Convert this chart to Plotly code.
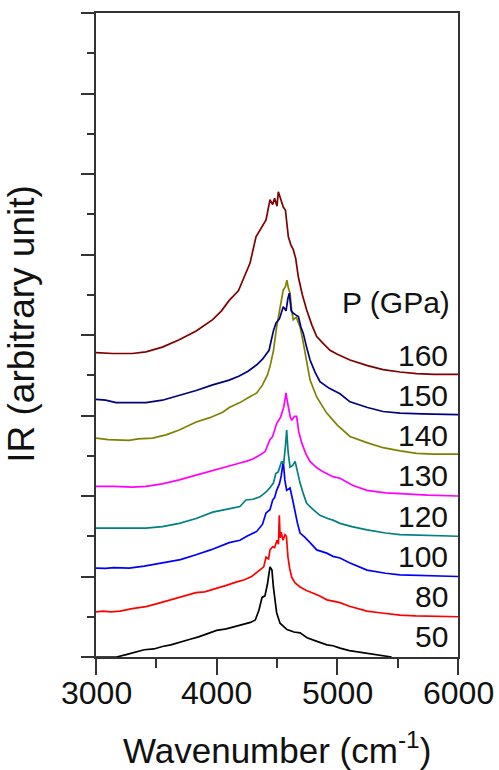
import plotly.graph_objects as go

# Pressures (GPa) of each spectrum, bottom to top
pressures = [50, 80, 100, 120, 130, 140, 150, 160]
offsets = [0.0, 0.5, 1.0, 1.5, 2.0, 2.5, 3.0, 3.5]
colors = ["#000000", "#ff0000", "#0000ff", "#008080",
          "#ff00ff", "#808000", "#000080", "#800000"]

# x-axis tick positions / labels
x_ticks = [3000, 4000, 5000, 6000]
x_minor = [3500, 4500, 5500]

# Stacked IR spectra (wavenumber in cm^-1, intensity in arbitrary units incl. offset)
wn_50 = [3000, 3100, 3170, 3250, 3330, 3400, 3480, 3550, 3620, 3700, 3780, 3850, 3920, 4000,
         4080, 4150, 4220, 4280, 4320, 4350, 4376, 4400, 4420, 4442, 4458, 4470, 4497, 4525,
         4583, 4640, 4691, 4749, 4820, 4914, 4964, 5022, 5100, 5180, 5246, 5320, 5400, 5450]
ir_50 = [0.00, 0.00, 0.00, 0.03, 0.06, 0.09, 0.10, 0.13, 0.15, 0.19, 0.22, 0.25, 0.29, 0.33,
         0.35, 0.38, 0.41, 0.43, 0.46, 0.58, 0.74, 0.76, 0.90, 1.12, 1.08, 0.87, 0.55, 0.42,
         0.34, 0.31, 0.30, 0.24, 0.20, 0.15, 0.14, 0.11, 0.08, 0.06, 0.05, 0.03, 0.01, 0.00]

wn_80 = [3000, 3060, 3120, 3200, 3300, 3414, 3500, 3600, 3700, 3829, 3900, 4000, 4080, 4160,
         4230, 4290, 4326, 4359, 4390, 4409, 4430, 4442, 4464, 4480, 4500, 4512, 4519, 4526,
         4535, 4550, 4566, 4578, 4591, 4605, 4622, 4650, 4691, 4740, 4798, 4850, 4914, 4964,
         5022, 5100, 5180, 5246, 5350, 5450, 5519, 5650, 5800, 6000]
ir_80 = [0.56, 0.57, 0.56, 0.57, 0.60, 0.625, 0.66, 0.70, 0.74, 0.80, 0.81, 0.85, 0.89, 0.93,
         0.96, 1.00, 1.04, 1.08, 1.12, 1.24, 1.22, 1.33, 1.37, 1.36, 1.45, 1.40, 1.76, 1.48,
         1.55, 1.45, 1.52, 1.50, 1.24, 1.10, 0.99, 0.92, 0.87, 0.83, 0.795, 0.76, 0.71, 0.69,
         0.675, 0.63, 0.60, 0.57, 0.55, 0.53, 0.52, 0.51, 0.505, 0.50]

wn_100 = [3000, 3080, 3150, 3274, 3400, 3552, 3700, 3829, 3950, 4104, 4193, 4250, 4298, 4332,
          4380, 4409, 4442, 4464, 4480, 4497, 4520, 4535, 4552, 4565, 4580, 4595, 4608, 4630,
          4650, 4670, 4691, 4730, 4774, 4829, 4912, 4964, 5022, 5100, 5246, 5400, 5519, 5700, 6000]
ir_100 = [1.105, 1.10, 1.11, 1.105, 1.13, 1.17, 1.21, 1.27, 1.33, 1.42, 1.45, 1.50, 1.54, 1.56,
          1.65, 1.79, 1.83, 1.95, 1.98, 2.07, 2.15, 2.25, 2.43, 2.20, 2.07, 2.09, 2.10, 1.95,
          1.79, 1.66, 1.54, 1.49, 1.42, 1.33, 1.29, 1.25, 1.23, 1.17, 1.08, 1.04, 1.02, 1.01, 1.00]

wn_120 = [3000, 3150, 3300, 3414, 3550, 3690, 3830, 3967, 4100, 4193, 4243, 4300, 4359, 4409,
          4440, 4470, 4490, 4510, 4538, 4555, 4570, 4580, 4592, 4608, 4630, 4650, 4670, 4691,
          4720, 4746, 4800, 4856, 4920, 4964, 5022, 5120, 5246, 5400, 5519, 5750, 6000]
ir_120 = [1.60, 1.60, 1.60, 1.60, 1.62, 1.66, 1.72, 1.80, 1.84, 1.87, 1.95, 1.96, 1.99, 2.05,
          2.10, 2.16, 2.28, 2.30, 2.43, 2.40, 2.62, 2.82, 2.55, 2.36, 2.38, 2.43, 2.30, 2.16,
          2.02, 1.91, 1.83, 1.76, 1.72, 1.70, 1.66, 1.62, 1.58, 1.54, 1.52, 1.51, 1.50]

wn_130 = [3000, 3150, 3300, 3414, 3550, 3690, 3830, 3967, 4100, 4193, 4243, 4300, 4359, 4400,
          4442, 4464, 4497, 4530, 4555, 4575, 4585, 4595, 4610, 4622, 4645, 4663, 4680, 4705,
          4740, 4774, 4830, 4882, 4964, 5022, 5130, 5246, 5400, 5519, 5750, 6000]
ir_130 = [2.12, 2.12, 2.11, 2.12, 2.15, 2.20, 2.26, 2.32, 2.37, 2.41, 2.43, 2.46, 2.51, 2.55,
          2.70, 2.74, 2.90, 2.98, 3.10, 3.28, 3.18, 3.10, 2.98, 2.94, 2.99, 2.99, 2.80, 2.66,
          2.52, 2.43, 2.35, 2.30, 2.24, 2.22, 2.13, 2.07, 2.04, 2.03, 2.01, 2.00]

wn_140 = [3000, 3100, 3274, 3350, 3469, 3580, 3690, 3830, 3938, 4050, 4104, 4193, 4260, 4332,
          4380, 4420, 4442, 4470, 4497, 4520, 4552, 4570, 4582, 4595, 4608, 4622, 4635, 4660,
          4691, 4712, 4732, 4774, 4829, 4912, 5000, 5105, 5250, 5379, 5520, 5657, 5800, 6000]
ir_140 = [2.72, 2.70, 2.69, 2.71, 2.72, 2.76, 2.82, 2.92, 2.97, 3.04, 3.10, 3.16, 3.22, 3.28,
          3.38, 3.50, 3.61, 3.80, 4.10, 4.30, 4.56, 4.60, 4.68, 4.58, 4.52, 4.30, 4.19, 4.22,
          4.10, 3.95, 3.78, 3.44, 3.23, 3.03, 2.88, 2.74, 2.66, 2.60, 2.56, 2.53, 2.52, 2.52]

wn_150 = [3000, 3080, 3166, 3300, 3414, 3550, 3690, 3830, 3967, 4104, 4187, 4260, 4332, 4380,
          4434, 4470, 4492, 4520, 4552, 4575, 4590, 4602, 4618, 4635, 4655, 4677, 4698, 4718,
          4745, 4774, 4815, 4856, 4930, 5022, 5105, 5250, 5379, 5520, 5700, 6000]
ir_150 = [3.20, 3.19, 3.16, 3.16, 3.16, 3.19, 3.25, 3.31, 3.38, 3.44, 3.49, 3.55, 3.63, 3.70,
          3.81, 4.05, 4.15, 4.20, 4.35, 4.30, 4.45, 4.52, 4.30, 4.27, 4.25, 4.23, 4.10, 4.02,
          3.85, 3.69, 3.54, 3.42, 3.34, 3.27, 3.17, 3.10, 3.05, 3.03, 3.02, 3.01]

wn_160 = [3000, 3138, 3300, 3414, 3550, 3690, 3830, 3967, 4040, 4104, 4180, 4243, 4276, 4326,
          4359, 4390, 4409, 4442, 4464, 4480, 4500, 4511, 4530, 4552, 4570, 4594, 4615, 4635,
          4655, 4677, 4710, 4746, 4790, 4829, 4880, 4939, 5000, 5105, 5250, 5379, 5520, 5657,
          5800, 6000]
ir_160 = [3.78, 3.77, 3.77, 3.79, 3.85, 3.94, 4.05, 4.19, 4.30, 4.43, 4.55, 4.77, 4.89, 5.22,
          5.30, 5.38, 5.43, 5.68, 5.62, 5.70, 5.60, 5.78, 5.70, 5.59, 5.55, 5.22, 5.12, 5.06,
          4.95, 4.72, 4.50, 4.31, 4.12, 3.98, 3.90, 3.81, 3.76, 3.69, 3.62, 3.57, 3.54, 3.52,
          3.51, 3.51]

spectra = [(wn_50, ir_50), (wn_80, ir_80), (wn_100, ir_100), (wn_120, ir_120),
           (wn_130, ir_130), (wn_140, ir_140), (wn_150, ir_150), (wn_160, ir_160)]

FONT = "Liberation Sans, Arial, sans-serif"
AXIS = "#333333"
TEXT = "#111111"

fig = go.Figure()
for (wn, ir), p, c in zip(spectra, pressures, colors):
    fig.add_trace(go.Scatter(x=wn, y=ir, mode="lines", name=f"{p} GPa",
                             line=dict(color=c, width=1.7), showlegend=False,
                             hoverinfo="skip"))

annotations = []
# pressure labels sit just above the right end of each trace
for p, off in zip(pressures, offsets):
    annotations.append(dict(x=5935, y=off + 0.25, xref="x", yref="y", text=str(p),
                            showarrow=False, xanchor="right", yanchor="middle",
                            font=dict(family=FONT, size=30, color=TEXT)))
annotations.append(dict(x=5950, y=offsets[-1] + 0.91, xref="x", yref="y", text="P (GPa)",
                        showarrow=False, xanchor="right", yanchor="middle",
                        font=dict(family=FONT, size=30, color=TEXT)))
# x tick labels, set close under the long ticks
for t in x_ticks:
    annotations.append(dict(x=t, y=-0.056, xref="x", yref="paper", text=str(t),
                            showarrow=False, xanchor="center", yanchor="middle",
                            font=dict(family=FONT, size=32, color=TEXT)))
# axis titles
annotations.append(dict(x=0.5, y=-0.141, xref="paper", yref="paper",
                        text="Wavenumber (cm<sup>-1</sup>)", showarrow=False,
                        xanchor="center", yanchor="middle",
                        font=dict(family=FONT, size=35, color=TEXT)))
annotations.append(dict(x=-0.208, y=0.517, xref="paper", yref="paper",
                        text="IR (arbitrary unit)", showarrow=False, textangle=-90,
                        xanchor="center", yanchor="middle",
                        font=dict(family=FONT, size=37, color=TEXT)))

fig.update_layout(
    width=499, height=770,
    margin=dict(l=96, r=41, t=13, b=113),
    paper_bgcolor="white", plot_bgcolor="white",
    annotations=annotations,
    xaxis=dict(range=[3000, 6000], tickvals=x_ticks, showticklabels=False,
               automargin=False,
               ticks="outside", ticklen=16, tickwidth=2, tickcolor=AXIS,
               showline=True, linewidth=2, linecolor=AXIS, mirror=True,
               showgrid=False, zeroline=False,
               minor=dict(tickvals=x_minor, ticks="outside",
                          ticklen=9, tickwidth=2, tickcolor=AXIS, showgrid=False)),
    yaxis=dict(range=[0, 8], tick0=0, dtick=1, ticks="outside", ticklen=13,
               automargin=False,
               tickwidth=2, tickcolor=AXIS, showticklabels=False,
               showline=True, linewidth=2, linecolor=AXIS, mirror=True,
               showgrid=False, zeroline=False,
               minor=dict(tick0=0.5, dtick=1, ticks="outside", ticklen=7,
                          tickwidth=2, tickcolor=AXIS, showgrid=False)),
)

fig.write_html("out.html")
